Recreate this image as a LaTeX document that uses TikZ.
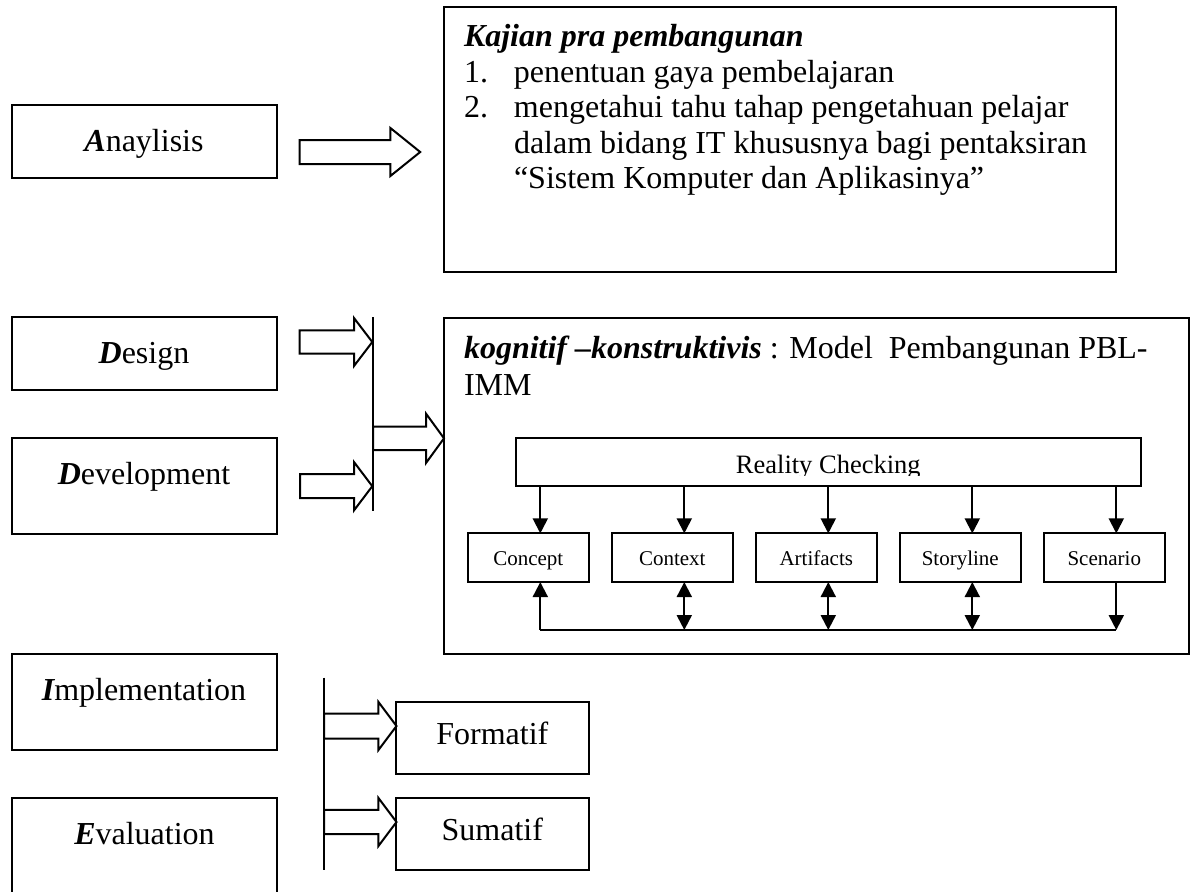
\documentclass[tikz,border=0pt]{standalone}
\usepackage{fontspec}
\setmainfont{Liberation Serif}
\usetikzlibrary{arrows.meta,calc}
\newcommand\bArrow[6]{%
  \draw[blk] (#1,{#4-#5}) -- (#2,{#4-#5}) -- (#2,{#4-#6}) -- (#3,#4) -- (#2,{#4+#6}) -- (#2,{#4+#5}) -- (#1,{#4+#5}) -- cycle;}
\newcommand\bi[1]{{\bfseries\itshape #1}}
\begin{document}
\begin{tikzpicture}[x=0.5pt,y=-0.5pt,
  every node/.style={inner sep=0pt, outer sep=0pt},
  lbox/.style={draw, line width=1pt, minimum width=132.5pt, anchor=north west, text height=23pt, font=\fontsize{16}{18}\selectfont},
  frame/.style={draw, line width=1pt, anchor=north west},
  txt/.style={anchor=base west, font=\fontsize{16}{18}\selectfont},
  sbox/.style={draw, line width=1pt, minimum width=60.35pt, text height=15.85pt, text depth=8.5pt, font=\fontsize{10.5}{12}\selectfont},
  ebox/.style={draw, line width=1pt, minimum width=96.35pt, text height=21.5pt, text depth=14.65pt, anchor=north west, font=\fontsize{16}{18}\selectfont},
  blk/.style={draw, line width=1pt, fill=white, line join=miter},
  vline/.style={line width=1pt},
  tri/.style={line width=1pt, >={Triangle[width=7.5pt,length=7.5pt]}}
]
\useasboundingbox (0,0) rectangle (1191,891);
\fill[white] (0,0) rectangle (1191,891);

% left column boxes
\node[lbox, text depth=13.5pt] (ana) at (11.5,105.3) {\bi{A}naylisis};
\node[lbox, text depth=13.5pt] (des) at (11.5,317.3) {\bi{D}esign};
\node[lbox, text depth=25pt] (dev) at (11.5,438.3) {\bi{D}evelopment};
\node[lbox, text depth=25pt] (imp) at (11.5,654) {\bi{I}mplementation};
\begin{scope}
\clip (0,0) rectangle (1191,891);
\node[lbox, text depth=27pt] (eva) at (12,798) {\bi{E}valuation};
\end{scope}

% top right box
\node[frame, minimum width=336pt, minimum height=132.35pt] (kbox) at (444,7.3) {};
\node[txt] (k0) at (464,46) {\bi{Kajian pra pembangunan}};
\node[txt] (k1) at (464,82) {\makebox[25pt][l]{1.}penentuan gaya pembelajaran};
\node[txt] (k2) at (464,117.5) {\makebox[25pt][l]{2.}mengetahui tahu tahap pengetahuan pelajar};
\node[txt] (k3) at (514,153) {dalam bidang IT khususnya bagi pentaksiran};
\node[txt] (k4) at (514,188.5) {“Sistem Komputer dan Aplikasinya”};

% middle right box
\node[frame, minimum width=372.35pt, minimum height=167.6pt] (mbox) at (444,318.3) {};
\node[txt] (m0) at (464,358) {\bi{kognitif –konstruktivis} : Model\ \ Pembangunan PBL-};
\node[txt] (m1) at (464,395) {IMM};

% reality checking
\node[frame, minimum width=312.35pt, minimum height=24pt] (rc) at (516,437.7) {};
\begin{scope}
\clip (516,437.7) rectangle (1140.7,475.5);
\node[anchor=base, font=\fontsize{13.25}{15}\selectfont] (rct) at (828.3,473.3) {Reality Checking};
\end{scope}

\node[sbox] (c1) at (528.3,557.7) {Concept};
\node[sbox] (c2) at (672.3,557.7) {Context};
\node[sbox] (c3) at (816.3,557.7) {Artifacts};
\node[sbox] (c4) at (960.3,557.7) {Storyline};
\node[sbox] (c5) at (1104.3,557.7) {Scenario};

\foreach \n in {c1,c2,c3,c4,c5}{
  \draw[tri,->] ([xshift=6pt]\n.north |- rc.south) -- ([xshift=6pt]\n.north);
}
\coordinate (bl) at (540,630);
\coordinate (br) at (1116,630);
\draw[vline] (bl) -- (br);
\draw[tri,<-] ([xshift=6pt]c1.south) -- ([xshift=6pt]c1.south |- bl);
\draw[tri,<->] ([xshift=6pt]c2.south) -- ([xshift=6pt]c2.south |- bl);
\draw[tri,<->] ([xshift=6pt]c3.south) -- ([xshift=6pt]c3.south |- bl);
\draw[tri,<->] ([xshift=6pt]c4.south) -- ([xshift=6pt]c4.south |- bl);
\draw[tri,->] ([xshift=6pt]c5.south) -- ([xshift=6pt]c5.south |- br);

% formatif / sumatif
\node[ebox] (for) at (396,701.7) {Formatif};
\node[ebox] (sum) at (396,797.7) {Sumatif};

% block arrows
\bArrow{299.7}{390.4}{420.2}{152}{12}{24}
\bArrow{299.7}{354}{372.3}{342}{11.7}{24}
\bArrow{300}{354}{372.3}{486.2}{12}{24.2}
\bArrow{373}{426}{444}{438.3}{11.8}{24.7}
\bArrow{324}{378.3}{396.5}{726}{12.5}{24.2}
\bArrow{324}{378.3}{396.5}{822}{12.2}{24.2}

% vertical bars
\coordinate (v1t) at (372.5,317.3);
\coordinate (v1b) at (372.5,510.5);
\coordinate (v2t) at (324,677.7);
\coordinate (v2b) at (324,870);
\draw[vline] (v1t) -- (v1b);
\draw[vline] (v2t) -- (v2b);
\end{tikzpicture}
\end{document}
